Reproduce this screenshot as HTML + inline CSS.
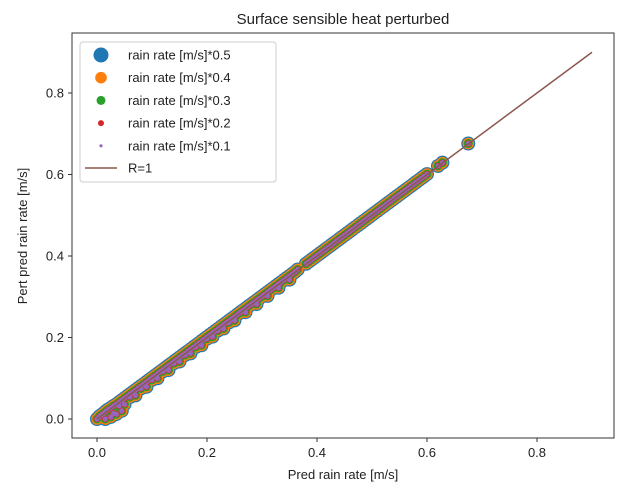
<!DOCTYPE html>
<html><head><meta charset="utf-8"><style>
body{margin:0;background:#fff;}
svg text{font-family:"Liberation Sans","DejaVu Sans",sans-serif;fill:#222;}
</style></head><body>
<svg id="chart" width="626" height="487" viewBox="0 0 626 487" xmlns="http://www.w3.org/2000/svg">
<rect width="626" height="487" fill="#fff"/>
<g id="marks"></g>
<rect x="72" y="33" width="542" height="405" fill="none" stroke="#333" stroke-width="1"/>
<g id="axes"></g>
<text x="343" y="24" font-size="15" text-anchor="middle">Surface sensible heat perturbed</text>
<text x="343" y="479" font-size="13" text-anchor="middle">Pred rain rate [m/s]</text>
<text transform="translate(27,236) rotate(-90)" font-size="13" text-anchor="middle">Pert pred rain rate [m/s]</text>
<g>
<rect x="80" y="42" width="196" height="140" rx="3" fill="#fff" fill-opacity="0.8" stroke="#ccc"/>
</g>
<g id="legend-entries"></g>
</svg>
<script>
const predValues=[0,0.004,0.008,0.012,0.016,0.02,0.025,0.03,0.035,0.04,0.045,0.05,0.055,0.06,0.065,0.07,0.075,0.08,0.085,0.09,0.095,0.1,0.105,0.11,0.115,0.12,0.125,0.13,0.135,0.14,0.145,0.15,0.155,0.16,0.165,0.17,0.175,0.18,0.185,0.19,0.195,0.2,0.205,0.21,0.215,0.22,0.225,0.23,0.235,0.24,0.245,0.25,0.255,0.26,0.265,0.27,0.275,0.28,0.285,0.29,0.295,0.3,0.305,0.31,0.315,0.32,0.325,0.33,0.335,0.34,0.345,0.35,0.355,0.36,0.365,0.38,0.385,0.39,0.395,0.4,0.405,0.41,0.415,0.42,0.425,0.43,0.435,0.44,0.445,0.45,0.455,0.46,0.465,0.47,0.475,0.48,0.485,0.49,0.495,0.5,0.505,0.51,0.515,0.52,0.525,0.53,0.535,0.54,0.545,0.55,0.555,0.56,0.565,0.57,0.575,0.58,0.585,0.59,0.595,0.6,0.62,0.628,0.675,0.015,0.025,0.035,0.045,0.03,0.05,0.07,0.09,0.11,0.13,0.15,0.17,0.19,0.21,0.23,0.25,0.27,0.29,0.31,0.33,0.35,0.04,0.06,0.08,0.1,0.12,0.14,0.16,0.18,0.2,0.22,0.24];
const pertValues=[0,0.006,0.01,0.014,0.019,0.023,0.027,0.032,0.036,0.041,0.046,0.051,0.056,0.061,0.066,0.071,0.076,0.081,0.086,0.091,0.096,0.101,0.106,0.111,0.116,0.121,0.126,0.131,0.136,0.141,0.146,0.151,0.156,0.161,0.166,0.171,0.176,0.181,0.186,0.191,0.196,0.201,0.206,0.211,0.216,0.221,0.226,0.231,0.236,0.241,0.246,0.251,0.256,0.261,0.266,0.271,0.276,0.281,0.286,0.291,0.296,0.301,0.306,0.311,0.316,0.321,0.326,0.331,0.336,0.341,0.346,0.351,0.356,0.361,0.367,0.381,0.386,0.391,0.396,0.401,0.406,0.411,0.416,0.421,0.426,0.431,0.436,0.441,0.446,0.451,0.456,0.461,0.466,0.471,0.476,0.481,0.486,0.491,0.496,0.501,0.506,0.511,0.516,0.521,0.526,0.531,0.536,0.541,0.546,0.551,0.556,0.561,0.566,0.571,0.576,0.581,0.586,0.591,0.596,0.601,0.621,0.629,0.676,0.0,0.005,0.012,0.02,0.014,0.036,0.058,0.079,0.1,0.12,0.141,0.161,0.181,0.202,0.222,0.242,0.262,0.282,0.302,0.322,0.342,0.032,0.054,0.075,0.096,0.117,0.137,0.157,0.177,0.197,0.217,0.237];
const seriesLabels=["rain rate [m/s]*0.5","rain rate [m/s]*0.4","rain rate [m/s]*0.3","rain rate [m/s]*0.2","rain rate [m/s]*0.1"];
const seriesColors=["#1f77b4","#ff7f0e","#2ca02c","#d62728","#9467bd"];
const seriesRadius=[7,5.8,4.5,3.2,2.6];
const xTicks=[0,0.2,0.4,0.6,0.8];
const yTicks=[0,0.2,0.4,0.6,0.8];
const lineX=[0,0.9];
const NS="http://www.w3.org/2000/svg";
const xs=v=>97+v*550, ys=v=>419-v*407.5;
const marks=document.getElementById('marks');
seriesColors.forEach((c,si)=>{
  const g=document.createElementNS(NS,'g');
  
  
  predValues.forEach((p,i)=>{
    const ci=document.createElementNS(NS,'circle');
    ci.setAttribute('cx',xs(p));ci.setAttribute('cy',ys(pertValues[i]));
    ci.setAttribute('r',seriesRadius[si]);ci.setAttribute('fill',c);
    
    
    g.appendChild(ci);
  });
  marks.appendChild(g);
});
const ln=document.createElementNS(NS,'line');
ln.setAttribute('x1',xs(lineX[0]));ln.setAttribute('y1',ys(lineX[0]));
ln.setAttribute('x2',xs(lineX[1]));ln.setAttribute('y2',ys(lineX[1]));
ln.setAttribute('stroke','#8c564b');ln.setAttribute('stroke-width','1.5');


marks.appendChild(ln);
const axes=document.getElementById('axes');
xTicks.forEach(t=>{
  const x=xs(t);
  axes.insertAdjacentHTML('beforeend',`<line x1="${x}" x2="${x}" y1="438" y2="442" stroke="#333"/>`);
  const tx=document.createElementNS(NS,'text');
  tx.setAttribute('x',x);tx.setAttribute('y',457);tx.setAttribute('font-size','13');tx.setAttribute('text-anchor','middle');
  tx.textContent=t.toFixed(1);
  
  
  axes.appendChild(tx);
});
yTicks.forEach(t=>{
  const y=ys(t);
  axes.insertAdjacentHTML('beforeend',`<line x1="68" x2="72" y1="${y}" y2="${y}" stroke="#333"/>`);
  const tx=document.createElementNS(NS,'text');
  tx.setAttribute('x',64);tx.setAttribute('y',y+4.5);tx.setAttribute('font-size','13');tx.setAttribute('text-anchor','end');
  tx.textContent=t.toFixed(1);
  
  
  axes.appendChild(tx);
});
const leg=document.getElementById('legend-entries');
seriesLabels.forEach((l,i)=>{
  const y=55+i*22.7;
  const g=document.createElementNS(NS,'g');
  
  
  g.innerHTML=`<circle cx="101" cy="${y}" r="${[7.5,5.8,4.5,3,1.6][i]}" fill="${seriesColors[i]}"/><text x="128" y="${y+4.5}" font-size="13">${l}</text>`;
  leg.appendChild(g);
});
const g2=document.createElementNS(NS,'g');


g2.innerHTML=`<line x1="85" x2="117" y1="168" y2="168" stroke="#8c564b" stroke-width="1.5"/><text x="128" y="172.5" font-size="13">R=1</text>`;
leg.appendChild(g2);
</script>
</body></html>
